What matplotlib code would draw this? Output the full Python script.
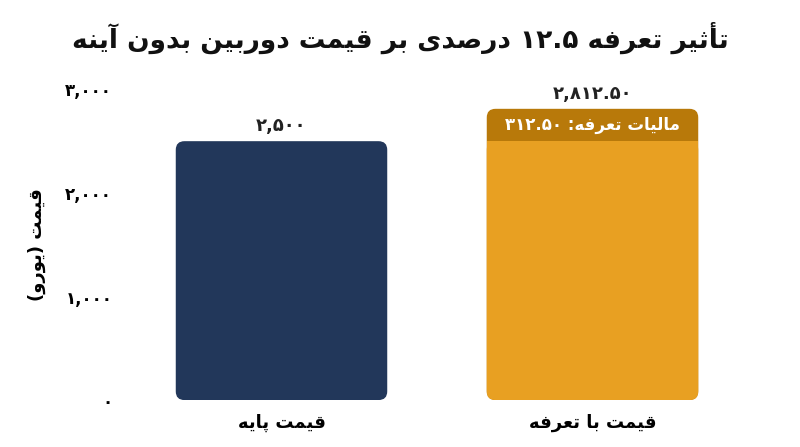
import re
import matplotlib
matplotlib.use("Agg")
import matplotlib.pyplot as plt
from matplotlib.patches import FancyBboxPatch, Rectangle

# --- minimal Persian shaping (matplotlib has no complex text layout) ---
FORMS = {
    "ا": (0xFE8D, 0xFE8E), "أ": (0xFE83, 0xFE84), "آ": (0xFE81, 0xFE82),
    "د": (0xFEA9, 0xFEAA), "ر": (0xFEAD, 0xFEAE), "و": (0xFEED, 0xFEEE),
    "ب": (0xFE8F, 0xFE90, 0xFE91, 0xFE92), "ت": (0xFE95, 0xFE96, 0xFE97, 0xFE98),
    "ث": (0xFE99, 0xFE9A, 0xFE9B, 0xFE9C), "ص": (0xFEB9, 0xFEBA, 0xFEBB, 0xFEBC),
    "ع": (0xFEC9, 0xFECA, 0xFECB, 0xFECC), "ف": (0xFED1, 0xFED2, 0xFED3, 0xFED4),
    "ق": (0xFED5, 0xFED6, 0xFED7, 0xFED8), "ل": (0xFEDD, 0xFEDE, 0xFEDF, 0xFEE0),
    "م": (0xFEE1, 0xFEE2, 0xFEE3, 0xFEE4), "ن": (0xFEE5, 0xFEE6, 0xFEE7, 0xFEE8),
    "ه": (0xFEE9, 0xFEEA, 0xFEEB, 0xFEEC), "ی": (0xFBFC, 0xFBFD, 0xFBFE, 0xFBFF),
    "پ": (0xFB56, 0xFB57, 0xFB58, 0xFB59),
}
MIRROR = {"(": ")", ")": "("}


def fa(text):
    out = []
    for i, c in enumerate(text):
        if c not in FORMS:
            out.append(c)
            continue
        f = FORMS[c]
        prev = text[i - 1] if i > 0 else ""
        nxt = text[i + 1] if i + 1 < len(text) else ""
        jp = prev in FORMS and len(FORMS[prev]) == 4
        jn = len(f) == 4 and nxt in FORMS
        if jp and jn:
            cp = f[3]
        elif jp:
            cp = f[1]
        elif jn:
            cp = f[2]
        else:
            cp = f[0]
        out.append(chr(cp))
    shaped = "".join(out)
    tokens = re.findall(r"[۰-۹0-9][۰-۹0-9.,]*|.", shaped)
    return "".join(MIRROR.get(t, t) for t in reversed(tokens))


TITLE = "تأثیر تعرفه ۱۲.۵ درصدی بر قیمت دوربین بدون آینه"
YLABEL = "قیمت (یورو)"
CATEGORIES = ["قیمت پایه", "قیمت با تعرفه"]
BASE = [2500, 2500]
TARIFF = [0, 312.5]
TOTAL_LABELS = ["۲,۵۰۰", "۲,۸۱۲.۵۰"]
TARIFF_LABEL = "مالیات تعرفه: ۳۱۲.۵۰"
YTICKS = [0, 1000, 2000, 3000]
YTICK_LABELS = ["۰", "۱,۰۰۰", "۲,۰۰۰", "۳,۰۰۰"]

plt.rcParams["font.family"] = ["DejaVu Sans"]

fig = plt.figure(figsize=(8, 4.47), dpi=100)
ax = fig.add_axes([0.1575, 0.105, 0.7775, 0.695])
ax.set_xlim(-0.5, 1.5)
ax.set_ylim(0, 3000)

x = [0, 1]
width = 0.68
colors = ["#22375a", "#e8a022"]
dark = "#b8790a"
r = 0.028
aspect = 3000 / 311 * 622 / 2  # y-units per x-unit in pixels


def rbar(xc, y0, h, color, z=2):
    ax.add_patch(FancyBboxPatch((xc - width / 2, y0), width, h,
                                boxstyle=f"round,pad=0,rounding_size={r}",
                                mutation_aspect=aspect, facecolor=color,
                                edgecolor="none", zorder=z))


for xi, b, t, c in zip(x, BASE, TARIFF, colors):
    if t > 0:
        rbar(xi, 0, b + t, dark, 2)
        rbar(xi, 0, b, c, 3)
        ax.add_patch(Rectangle((xi - width / 2, b - 150), width, 150,
                               facecolor=c, edgecolor="none", zorder=3))
    else:
        rbar(xi, 0, b, c, 2)

for xi, b, t, lab in zip(x, BASE, TARIFF, TOTAL_LABELS):
    ax.text(xi, b + t + 60, lab, ha="center", va="bottom", fontsize=13,
            fontweight="bold", color="#222222")
ax.text(1, BASE[1] + TARIFF[1] / 2, fa(TARIFF_LABEL), ha="center", va="center",
        fontsize=12, fontweight="bold", color="white", zorder=4)

ax.set_xticks(x)
ax.set_xticklabels([fa(c) for c in CATEGORIES], fontsize=13, fontweight="bold")
ax.set_yticks(YTICKS)
ax.set_yticklabels(YTICK_LABELS, fontsize=12, fontweight="bold")
ax.set_ylabel(fa(YLABEL), fontsize=13, fontweight="bold", labelpad=14)
ax.tick_params(length=0, pad=10)
for s in ax.spines.values():
    s.set_visible(False)

fig.text(0.5, 0.915, fa(TITLE), ha="center", va="center", fontsize=19,
         fontweight="bold", color="#111111")

fig.savefig("out.png", dpi=100)
